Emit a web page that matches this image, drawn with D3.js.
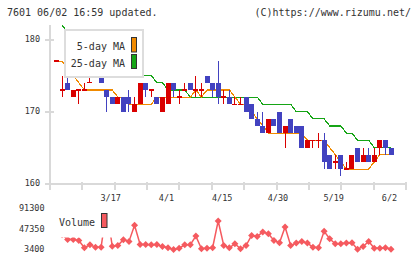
<!DOCTYPE html>
<html>
<head>
<meta charset="utf-8">
<script src="https://cdn.jsdelivr.net/npm/d3@7"></script>
<style>
    body { margin: 0; background: #fff; }
    svg { display: block; font-family: "DejaVu Sans Mono", monospace; }
</style>
</head>
<body>
<div id="chart"></div>
<script>
// trading days shown on the chart
const dates = ["3/3", "3/4", "3/5", "3/6", "3/7", "3/10", "3/11", "3/12", "3/13", "3/14",
    "3/17", "3/18", "3/19", "3/21", "3/24", "3/25", "3/26", "3/27", "3/28", "3/31",
    "4/1", "4/2", "4/3", "4/4", "4/7", "4/8", "4/9", "4/10", "4/11", "4/14",
    "4/15", "4/16", "4/17", "4/18", "4/21", "4/22", "4/23", "4/24", "4/25", "4/28",
    "4/30", "5/1", "5/7", "5/8", "5/9", "5/12", "5/13", "5/14", "5/15", "5/16",
    "5/19", "5/20", "5/21", "5/22", "5/23", "5/26", "5/27", "5/28", "5/29", "5/30", "6/2"];

const opens = [177, 173, 174, 172, 173, 173, 174, 175, 175, 173, 172, 171, 172, 172, 170, 171, 174, 173, 172, 170,
    171, 174, 172, 173, 174, 173, 173, 175, 174, 174, 172, 172, 171, 171, 172, 171, 169, 168, 167, 169,
    170, 167, 169, 168, 168, 165, 166, 166, 166, 164, 163, 164, 162, 162, 165, 163, 164, 163, 165, 166, 165];
const highs = [177, 175, 176, 173, 173, 174, 175, 176, 176, 173, 172, 172, 172, 173, 172, 174, 174, 173, 172, 172,
    174, 174, 173, 174, 174, 175, 174, 175, 174, 177, 173, 173, 172, 172, 172, 171, 170, 170, 169, 169,
    170, 168, 169, 168, 168, 166, 166, 167, 167, 164, 164, 164, 163, 164, 165, 165, 165, 165, 166, 166, 165];
const lows = [177, 172, 173, 172, 171, 173, 174, 175, 174, 170, 171, 171, 170, 170, 170, 171, 172, 172, 171, 170,
    171, 172, 171, 173, 173, 172, 172, 174, 172, 171, 171, 171, 171, 171, 170, 169, 168, 167, 167, 168,
    167, 165, 167, 167, 165, 165, 165, 165, 162, 162, 162, 161, 162, 162, 163, 163, 163, 163, 164, 164, 164];
const closes = [177, 173, 173, 173, 173, 173, 174, 175, 174, 172, 171, 172, 170, 171, 171, 174, 173, 173, 171, 172,
    174, 173, 172, 173, 173, 173, 173, 174, 173, 172, 172, 171, 171, 171, 170, 169, 168, 167, 169, 168,
    167, 168, 167, 167, 165, 166, 166, 166, 163, 162, 163, 162, 162, 164, 163, 164, 163, 164, 166, 165, 164];

const ma5 = [177, 177, 176, 175, 174, 173, 173, 173, 173, 173, 173, 172, 172, 171, 171, 171, 171, 171, 172, 172,
    172, 172, 172, 172, 172, 173, 172, 173, 173, 173, 173, 173, 172, 171, 171, 170, 169, 168, 167, 167,
    167, 167, 167, 167, 167, 166, 166, 166, 166, 165, 164, 163, 162, 162, 162, 162, 162, 163, 164, 164, 164];
const ma25 = [183, 182, 181, 181, 180, 180, 179, 179, 178, 178, 177, 177, 176, 176, 175, 175, 175, 175, 174, 174,
    173, 173, 173, 173, 172, 172, 172, 172, 172, 172, 172, 172, 172, 172, 172, 172, 172, 171, 171, 171,
    171, 171, 171, 170, 170, 170, 169, 169, 169, 168, 168, 168, 167, 167, 166, 166, 166, 165, 165, 165, 165];

const volumes = [40000, 35000, 25000, 25000, 22800, 7100, 13600, 8400, 8400, 91300, 10500, 12000, 24400, 20700, 55200,
    14200, 14200, 13600, 14200, 9900, 7100, 3400, 6200, 13600, 13600, 32100, 5000, 6200, 7100, 64500,
    12000, 7100, 15700, 4900, 12000, 33600, 31500, 40800, 37300, 22800, 17900, 51600, 12000, 17100, 20700,
    17100, 8400, 7100, 42300, 26500, 15700, 15700, 17100, 17900, 4000, 9900, 20700, 6200, 6200, 7100, 4200];

const xTickLabels = ["3/17", "4/1", "4/15", "4/30", "5/19", "6/2"];
const priceTicks = [170, 180];
const priceLabels = [160, 170, 180];
const volumeTicks = [3400, 47350, 91300];

const colors = {
    up: "#d90000",
    down: "#4242c0",
    ma5: "#f08a00",
    ma25: "#16a516",
    volume: "#f55a5f",
    axis: "#d9d9d9",
    text: "#333",
};

const width = 420, height = 259;
const plot = { left: 50, right: 406, top: 25, bottom: 183.5 };

const svg = d3.select("#chart").append("svg")
    .attr("width", width)
    .attr("height", height);

const x = d3.scaleLinear().domain([0, dates.length - 1]).range([56.5, 391]);
const y = d3.scaleLinear().domain([160, 180]).range([183.5, 39.5]);
const yVol = d3.scaleLinear().domain([3400, 91300]).range([249.5, 208.5]);

// header
svg.append("text").attr("x", 7).attr("y", 16)
    .attr("font-size", 10).attr("fill", colors.text)
    .text("7601 06/02 16:59 updated.");
svg.append("text").attr("x", 411).attr("y", 16)
    .attr("font-size", 10).attr("fill", colors.text).attr("text-anchor", "end")
    .text("(C)https://www.rizumu.net/");

// axes
const axes = svg.append("g").attr("stroke", colors.axis).attr("stroke-width", 2)
    .attr("shape-rendering", "crispEdges");
axes.append("line").attr("x1", plot.left).attr("x2", plot.left)
    .attr("y1", plot.top).attr("y2", 189.5);
axes.append("line").attr("x1", 45).attr("x2", plot.right)
    .attr("y1", y(160)).attr("y2", y(160));
axes.selectAll(".ytick").data(priceTicks).join("line")
    .attr("x1", 45).attr("x2", 54)
    .attr("y1", d => y(d)).attr("y2", d => y(d));
axes.selectAll(".xtick").data(d3.range(1, 12)).join("line")
    .attr("x1", k => plot.left + k * (plot.right - plot.left) / 11)
    .attr("x2", k => plot.left + k * (plot.right - plot.left) / 11)
    .attr("y1", 182).attr("y2", 189.5);

svg.append("g").selectAll("text").data(priceLabels).join("text")
    .attr("x", 40).attr("y", d => y(d)).attr("dy", "0.35em")
    .attr("text-anchor", "end").attr("font-size", 8.5).attr("fill", colors.text)
    .text(d => d);

svg.append("g").selectAll("text").data(xTickLabels).join("text")
    .attr("x", d => x(dates.indexOf(d)) - 1.5).attr("y", 198).attr("dy", "0.35em")
    .attr("text-anchor", "middle").attr("font-size", 8.5).attr("fill", colors.text)
    .text(d => d);

// plot area
svg.append("clipPath").attr("id", "clip").append("rect")
    .attr("x", plot.left).attr("y", plot.top)
    .attr("width", plot.right - plot.left).attr("height", plot.bottom - plot.top);
const area = svg.append("g").attr("clip-path", "url(#clip)");

const maLine = d3.line().x((d, i) => x(i)).y(d => y(d));

area.append("path").datum(ma25)
    .attr("d", maLine).attr("fill", "none")
    .attr("stroke", colors.ma25).attr("stroke-width", 1.2)
    .attr("shape-rendering", "crispEdges");

// legend box sits on top of the 25-day line
svg.append("rect").attr("x", 65).attr("y", 30).attr("width", 78).attr("height", 47)
    .attr("fill", "#fff").attr("stroke", "#ddd").attr("stroke-width", 2);

area.append("path").datum(ma5)
    .attr("d", maLine).attr("fill", "none")
    .attr("stroke", colors.ma5).attr("stroke-width", 1.2)
    .attr("shape-rendering", "crispEdges");

const candles = area.append("g").attr("shape-rendering", "crispEdges");
dates.forEach((d, i) => {
    const o = opens[i], c = closes[i];
    const col = c >= o ? colors.up : colors.down;
    const cx = x(i);
    candles.append("line")
        .attr("x1", cx).attr("x2", cx)
        .attr("y1", y(highs[i])).attr("y2", y(lows[i]))
        .attr("stroke", col).attr("stroke-width", 1);
    if (o === c) {
        candles.append("line")
            .attr("x1", cx - 2.5).attr("x2", cx + 2.5)
            .attr("y1", y(o)).attr("y2", y(o))
            .attr("stroke", col).attr("stroke-width", 1.5);
    } else {
        candles.append("rect")
            .attr("x", cx - 2.5).attr("width", 5)
            .attr("y", y(Math.max(o, c)))
            .attr("height", y(Math.min(o, c)) - y(Math.max(o, c)))
            .attr("fill", col);
    }
});

// legend text
const legend = svg.append("g").attr("font-size", 10).attr("fill", colors.text);
legend.append("text").attr("x", 125).attr("y", 49.5).attr("text-anchor", "end").text("5-day MA");
legend.append("text").attr("x", 125).attr("y", 66.5).attr("text-anchor", "end").text("25-day MA");
legend.append("rect").attr("x", 131.5).attr("y", 37.5).attr("width", 5).attr("height", 14.5)
    .attr("fill", colors.ma5).attr("stroke", "#333").attr("stroke-width", 1);
legend.append("rect").attr("x", 131.5).attr("y", 54.5).attr("width", 5).attr("height", 14)
    .attr("fill", colors.ma25).attr("stroke", "#333").attr("stroke-width", 1);

// volume panel
svg.append("g").selectAll("text").data(volumeTicks).join("text")
    .attr("x", 44.5).attr("y", d => yVol(d)).attr("dy", "0.35em")
    .attr("text-anchor", "end").attr("font-size", 8.5).attr("fill", colors.text)
    .text(d => d);

const volLine = d3.line().x((d, i) => x(i)).y(d => yVol(d));
svg.append("path").datum(volumes)
    .attr("d", volLine).attr("fill", "none")
    .attr("stroke", colors.volume).attr("stroke-width", 1.5);

svg.append("g").selectAll("path").data(volumes).join("path")
    .attr("transform", (d, i) => `translate(${x(i)},${yVol(d)})`)
    .attr("d", "M0,-3.5L3.5,0L0,3.5L-3.5,0Z")
    .attr("fill", colors.volume);

svg.append("rect").attr("x", 52).attr("y", 202).attr("width", 61).attr("height", 35.5)
    .attr("fill", "#fff");
svg.append("text").attr("x", 59).attr("y", 226)
    .attr("font-size", 10).attr("fill", colors.text).text("Volume");
svg.append("rect").attr("x", 101.5).attr("y", 213.5).attr("width", 5.5).attr("height", 14)
    .attr("fill", colors.volume).attr("stroke", "#333").attr("stroke-width", 1);
</script>
</body>
</html>
